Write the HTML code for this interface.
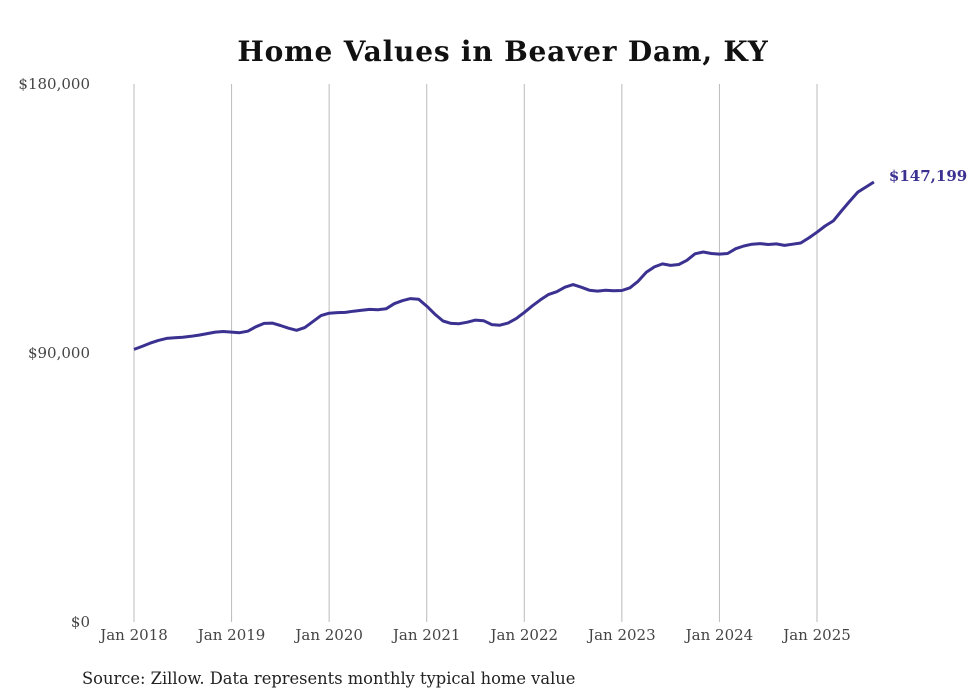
<!DOCTYPE html>
<html><head><meta charset="utf-8"><style>
body{margin:0;background:#fff;width:980px;height:699px;overflow:hidden}
svg{display:block}
text{font-family:"DejaVu Serif","Liberation Serif",serif}
</style></head><body>
<svg id="chart" width="980" height="699">
<text x="503" y="61" text-anchor="middle" font-size="28" font-weight="bold" fill="#111" letter-spacing="0.8">Home Values in Beaver Dam, KY</text>
<g id="grid"></g><g id="yt"></g><g id="xt"></g>
<path id="line" fill="none" stroke="#3b3191" stroke-width="3" stroke-linejoin="round"/>
<text id="endlabel" font-size="15" font-weight="bold" fill="#3b3191"></text>
<text x="82" y="684" font-size="16.3" fill="#222">Source: Zillow. Data represents monthly typical home value</text>
</svg>
<script>
const yearLabels=["Jan 2018","Jan 2019","Jan 2020","Jan 2021","Jan 2022","Jan 2023","Jan 2024","Jan 2025"];
const yTicks=[0,90000,180000];
const yTickLabels=["$0","$90,000","$180,000"];
const values=[91.2,92.2,93.3,94.2,94.9,95.1,95.3,95.6,96.0,96.5,97.0,97.2,
97.0,96.8,97.3,98.8,99.9,100.0,99.2,98.3,97.6,98.5,100.5,102.5,
103.3,103.5,103.6,104.0,104.3,104.6,104.5,104.8,106.5,107.5,108.2,108.0,
105.7,103.0,100.7,99.9,99.8,100.3,101.0,100.8,99.5,99.3,100.0,101.5,
103.6,105.8,107.8,109.6,110.5,112.0,112.9,112.0,111.0,110.7,111.0,110.8,
110.9,111.8,114.0,117.0,118.8,119.8,119.3,119.6,121.0,123.2,123.8,123.3,
123.1,123.3,124.9,125.8,126.4,126.6,126.3,126.5,126.0,126.4,126.8,128.5,
130.4,132.5,134.2,137.5,140.7,143.8,145.5,147.199];
const lastLabel="$147,199";
const NS="http://www.w3.org/2000/svg";
const x=m=>134+m*(817-134)/84;
const y=v=>622-v*(622-84)/180000;
const grid=document.getElementById('grid'),yt=document.getElementById('yt'),xt=document.getElementById('xt');
yearLabels.forEach((l,i)=>{
 const gx=x(i*12);
 const ln=document.createElementNS(NS,'line');
 ln.setAttribute('x1',gx);ln.setAttribute('x2',gx);ln.setAttribute('y1',84);ln.setAttribute('y2',622);
 ln.setAttribute('stroke','#bbb');ln.setAttribute('stroke-width','1');
 
 
 grid.appendChild(ln);
 const t=document.createElementNS(NS,'text');
 t.setAttribute('x',gx);t.setAttribute('y',640);t.setAttribute('text-anchor','middle');
 t.setAttribute('font-size','15');t.setAttribute('fill','#444');t.textContent=l;
 
 
 xt.appendChild(t);
});
yTicks.forEach((v,i)=>{
 const t=document.createElementNS(NS,'text');
 t.setAttribute('x',90);t.setAttribute('y',y(v)+5);t.setAttribute('text-anchor','end');
 t.setAttribute('font-size','15');t.setAttribute('fill','#444');t.textContent=yTickLabels[i];
 
 
 yt.appendChild(t);
});
document.getElementById('line').setAttribute('d',values.map((v,i)=>(i?'L':'M')+x(i).toFixed(1)+','+y(v*1000).toFixed(1)).join(''));
const el=document.getElementById('endlabel');const n=values.length-1;
el.setAttribute('x',x(n)+15);el.setAttribute('y',y(values[n]*1000)-1);el.textContent=lastLabel;
</script>
</body></html>
